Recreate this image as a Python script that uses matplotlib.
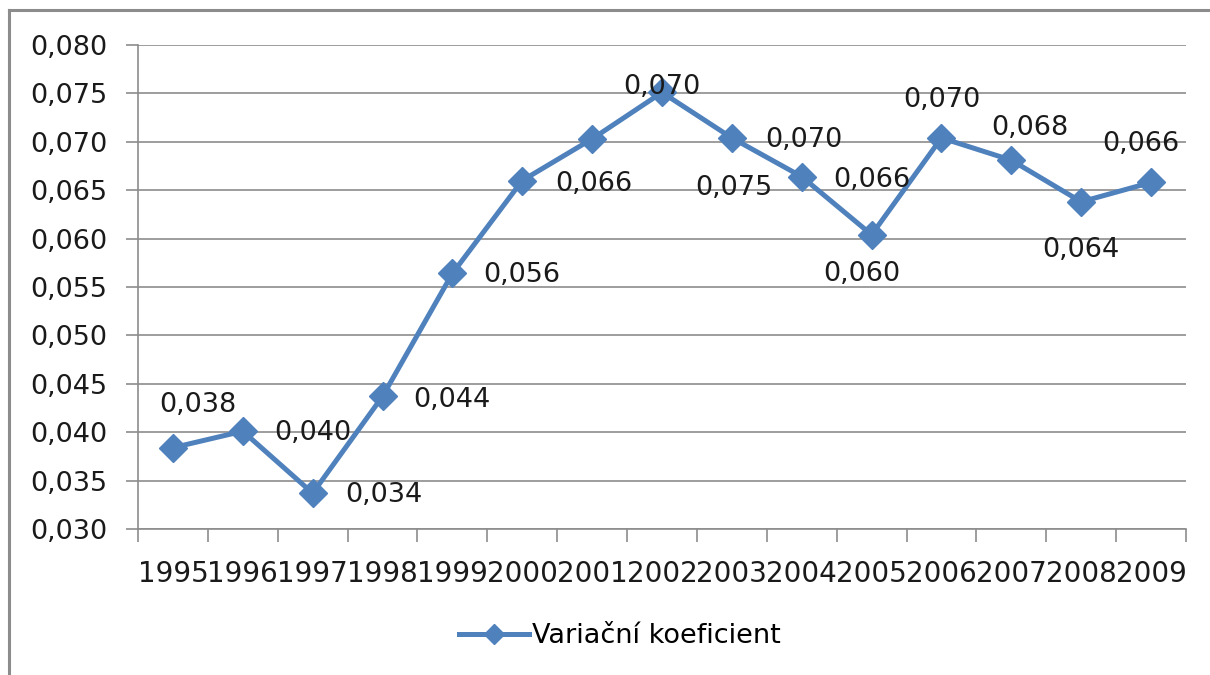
import matplotlib
matplotlib.use("Agg")
import matplotlib.pyplot as plt
from matplotlib.lines import Line2D
from matplotlib.ticker import FixedLocator, FuncFormatter

# data
years = ["1995", "1996", "1997", "1998", "1999", "2000", "2001", "2002",
         "2003", "2004", "2005", "2006", "2007", "2008", "2009"]
values = [0.0384, 0.0401, 0.0337, 0.0437, 0.0564, 0.0660, 0.0703, 0.0751,
          0.0704, 0.0664, 0.0604, 0.0704, 0.0681, 0.0638, 0.0658]
series_name = "Variační koeficient"
y_ticks = [0.030, 0.035, 0.040, 0.045, 0.050, 0.055, 0.060, 0.065, 0.070, 0.075, 0.080]

# label placement (pixel offsets from each point, as Excel placed them)
label_offsets = [(25, 43), (70, -2), (71, -2), (69, -4), (69, -2), (72, -3),
                 (70, 52), (72, -96), (72, -2), (70, -3), (-10, -39),
                 (0, 38), (19, 32), (0, -48), (-10, 38)]

blue = "#4F81BD"
grey = "#8C8C8C"
W, H = 1210, 675
fs = 19.5

plt.rcParams["font.family"] = ["DejaVu Sans"]
fig = plt.figure(figsize=(W / 100, H / 100), dpi=100)
ax = fig.add_axes([138 / W, 1 - 529 / H, (1186 - 138) / W, (529 - 45) / H])

x = list(range(len(years)))
line, = ax.plot(x, values, color=blue, lw=3.6, marker="D", ms=14,
                markerfacecolor=blue, markeredgecolor=blue, label=series_name,
                zorder=3)

for xi, v, (dx, dy) in zip(x, values, label_offsets):
    ax.annotate(f"{v:.3f}".replace(".", ","), (xi, v), xytext=(dx, dy),
                textcoords="offset pixels", ha="center", va="center",
                fontsize=fs, color="#1a1a1a", zorder=4)

ax.set_xlim(-0.5, len(years) - 0.5)
ax.set_ylim(0.030, 0.080)

# y axis
ax.yaxis.set_major_locator(FixedLocator(y_ticks))
ax.yaxis.set_major_formatter(FuncFormatter(lambda v, p: f"{v:.3f}".replace(".", ",")))
ax.yaxis.grid(True, color=grey, lw=1.2)
ax.set_axisbelow(True)
ax.tick_params(axis="y", length=9, width=1.2, color=grey, labelsize=fs,
               labelcolor="#1a1a1a", pad=13)

# x axis: ticks between categories, labels centered
ax.xaxis.set_major_locator(FixedLocator([i - 0.5 for i in range(len(years) + 1)]))
ax.xaxis.set_major_formatter(FuncFormatter(lambda v, p: ""))
ax.xaxis.set_minor_locator(FixedLocator(x))
ax.set_xticklabels(years, minor=True)
ax.tick_params(axis="x", which="major", length=9, width=1.2, color=grey)
ax.tick_params(axis="x", which="minor", length=0, labelsize=fs + 0.5,
               labelcolor="#1a1a1a", pad=22)

for side in ["top", "right"]:
    ax.spines[side].set_visible(False)
for side in ["left", "bottom"]:
    ax.spines[side].set_color(grey)
    ax.spines[side].set_linewidth(1.2)

fig.legend(handles=[line], loc="center", bbox_to_anchor=(620 / W, 1 - 636 / H),
           frameon=False, fontsize=fs, handlelength=2.6, handletextpad=0.1,
           markerscale=0.75)

# outer chart frame (only top and left edges visible)
fig.add_artist(Line2D([9 / W, 1.02], [1 - 10 / H, 1 - 10 / H], color=grey, lw=2.2,
                      transform=fig.transFigure))
fig.add_artist(Line2D([9 / W, 9 / W], [-0.02, 1 - 10 / H], color=grey, lw=2.2,
                      transform=fig.transFigure))

fig.savefig("out.png", dpi=100)
